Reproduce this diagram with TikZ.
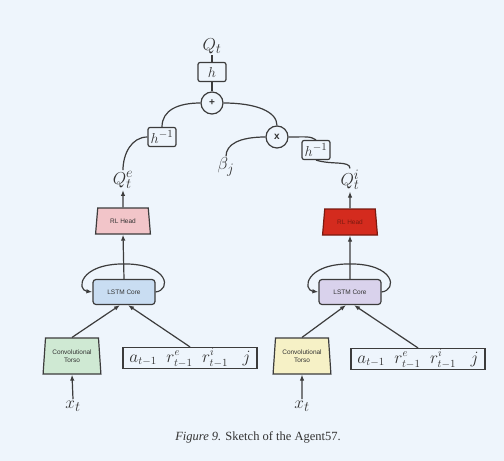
\documentclass[tikz,border=0pt]{standalone}
\usepackage{fontspec}
\newfontfamily\capfont{Liberation Serif}
\newfontfamily\nodefont{Liberation Sans}
\usetikzlibrary{shapes.geometric,arrows.meta,calc}
\definecolor{bg}{HTML}{EEF5FC}
\definecolor{edge}{HTML}{3C3C3C}
\definecolor{pinkf}{HTML}{F2C5C9}
\definecolor{redf}{HTML}{D42B1E}
\definecolor{redd}{HTML}{7A1A10}
\definecolor{bluef}{HTML}{C9DDF2}
\definecolor{lavf}{HTML}{D9D2EC}
\definecolor{greenf}{HTML}{CFE9D3}
\definecolor{yelf}{HTML}{F6F1C6}
\definecolor{txt}{HTML}{333333}
\begin{document}
\begin{tikzpicture}[x=1pt,y=-1pt,line width=1.2pt,draw=edge,
  lbl/.style={inner sep=1pt,text=txt,font=\fontsize{19}{22}\selectfont},
  hbox/.style={draw=edge,rounded corners=2pt,minimum width=28pt,minimum height=19pt,inner sep=0pt,fill=bg,text=txt,font=\fontsize{15}{18}\selectfont},
  op/.style={circle,draw=edge,minimum size=22pt,inner sep=0pt,text=txt,font=\nodefont\bfseries\fontsize{10}{10}\selectfont},
  head/.style={trapezium,trapezium left angle=77,trapezium right angle=77,trapezium stretches=true,minimum width=55pt,minimum height=26pt,inner sep=0pt,draw=edge,text=txt,font=\nodefont\fontsize{6.5}{7}\selectfont},
  torso/.style={trapezium,trapezium left angle=82,trapezium right angle=82,trapezium stretches=true,minimum width=58pt,minimum height=36pt,inner sep=0pt,draw=edge,align=center,text=txt,font=\nodefont\fontsize{6.5}{8}\selectfont},
  core/.style={rectangle,rounded corners=3pt,minimum width=62pt,minimum height=25pt,inner sep=0pt,draw=edge,text=txt,font=\nodefont\fontsize{6.5}{7}\selectfont},
  inbox/.style={rectangle,draw=edge,minimum width=134pt,minimum height=21pt,inner sep=0pt,text=txt,font=\fontsize{16}{18}\selectfont},
  arr/.style={-{Latex[length=6pt,width=4.5pt]}}]
\fill[bg] (0,0) rectangle (504,461);
\useasboundingbox (0,0) rectangle (504,461);

% top part
\node[lbl] (Qt) at (212,46) {$Q_t$};
\node[hbox] (hb) at (212,72) {$h$};
\node[op] (plus) at (212,103) {+};
\node[hbox] (hinvL) at (162,137) {$h^{-1}$};
\node[op] (times) at (277,137) {x};
\node[hbox] (hinvR) at (316,150) {$h^{-1}$};
\node[lbl] (beta) at (226,167) {$\beta_j$};
\node[lbl] (QteL) at (123,180) {$Q_t^e$};
\node[lbl] (QtiR) at (350,180) {$Q_t^i$};

\draw (Qt) -- (hb);
\draw (hb) -- (plus);
\draw (plus.west) .. controls +(-22,0) and +(0,-17) .. (hinvL.north);
\draw (hinvL.west) .. controls +(-16,0) and +(0,-16) .. (QteL.north);
\draw (plus.east) .. controls +(32,0) and +(0,-14) .. (times.north);
\draw (times.west) .. controls +(-26,0) and +(0,-12) .. (beta.north);
\draw (times.east) .. controls +(18,0) and +(-6,-4) .. (hinvR.north);
\draw (hinvR.south) .. controls +(16,5) and +(0,-8) .. (QtiR.north);

% left column
\node[head,fill=pinkf] (rlL) at (123,221) {RL Head};
\node[core,fill=bluef] (lstmL) at (124,292) {LSTM Core};
\node[torso,fill=greenf] (convL) at (72,356) {Convolutional\\Torso};
\node[inbox] (inL) at (190,358) {$a_{t-1}\;\;r^e_{t-1}\;\;r^i_{t-1}\;\;\;j$};
\node[lbl] (xL) at (73,406) {$x_t$};

\draw[arr] (rlL.north) -- (QteL.south);
\draw[arr] (lstmL.north) -- (rlL.south);
\draw[arr] (lstmL.east) .. controls +(16,-2) and +(45,0) .. ($(lstmL.north)+(0,-15)$) .. controls +(-45,0) and +(-16,-2) .. (lstmL.west);
\draw[arr] (convL.north) -- ($(lstmL.south)+(-4,0)$);
\draw[arr] (inL.north) -- ($(lstmL.south)+(4,0)$);
\draw[arr] (xL.north) -- (convL.south);

% right column
\node[head,fill=redf,draw=redd,text=redd] (rlR) at (350,222) {RL Head};
\node[core,fill=lavf] (lstmR) at (350,292) {LSTM Core};
\node[torso,fill=yelf] (convR) at (302,356) {Convolutional\\Torso};
\node[inbox] (inR) at (418,359) {$a_{t-1}\;\;r^e_{t-1}\;\;r^i_{t-1}\;\;\;j$};
\node[lbl] (xR) at (302,406) {$x_t$};

\draw[arr] (rlR.north) -- (QtiR.south);
\draw[arr] (lstmR.north) -- (rlR.south);
\draw[arr] (lstmR.east) .. controls +(16,-2) and +(45,0) .. ($(lstmR.north)+(0,-15)$) .. controls +(-45,0) and +(-16,-2) .. (lstmR.west);
\draw[arr] (convR.north) -- ($(lstmR.south)+(-4,0)$);
\draw[arr] (inR.north) -- ($(lstmR.south)+(4,0)$);
\draw[arr] (xR.north) -- (convR.south);

% caption
\node[inner sep=0pt,text=txt] (cap) at (258,437) {\capfont\fontsize{12.5}{14}\selectfont\textit{Figure 9.} Sketch of the Agent57.};
\end{tikzpicture}
\end{document}
